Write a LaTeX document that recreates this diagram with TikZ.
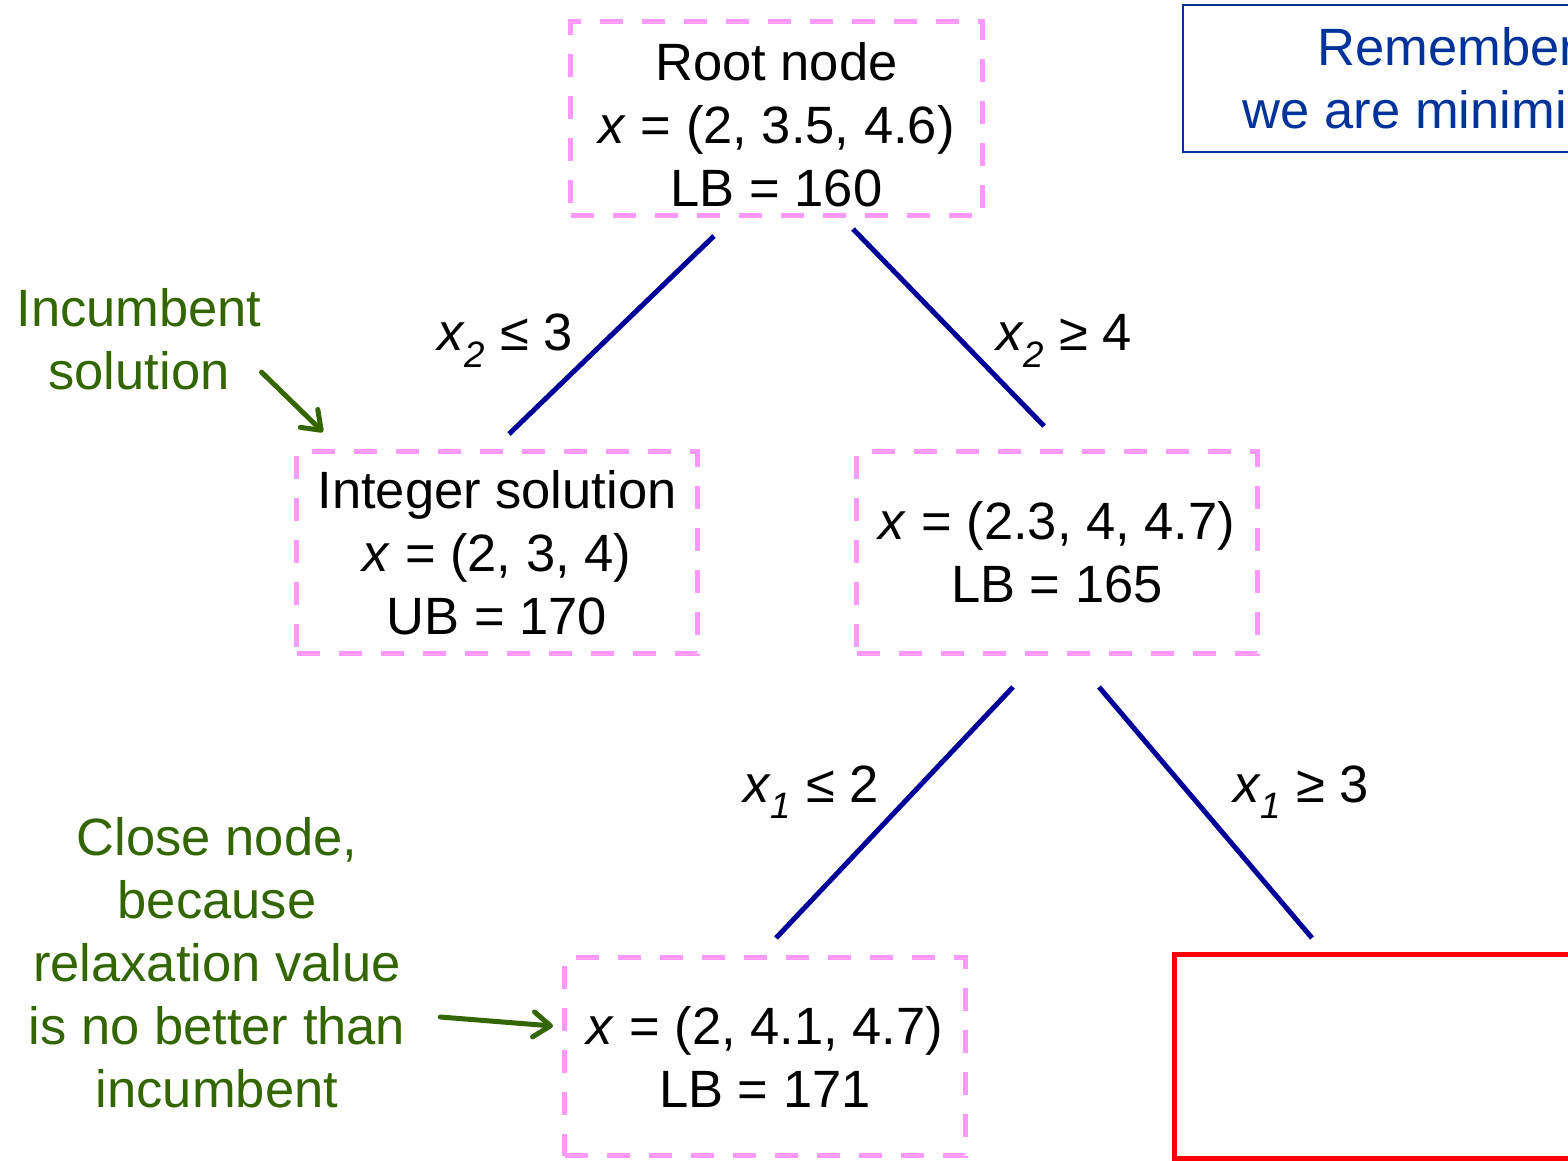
\documentclass[tikz,border=0pt]{standalone}
\usepackage{fontspec}
\setmainfont{Liberation Sans}
\usetikzlibrary{arrows.meta,calc}
\definecolor{boxpink}{RGB}{255,153,255}
\definecolor{branchblue}{RGB}{0,0,153}
\definecolor{notegreen}{RGB}{51,102,0}
\definecolor{remblue}{RGB}{0,51,153}

\begin{document}
\begin{tikzpicture}[x=1pt,y=-1pt,
  bigfont/.style={font=\fontsize{52.5}{63}\selectfont},
  bbnode/.style={draw=boxpink, line width=5pt, dash pattern=on 23pt off 19pt,
    align=center, inner sep=0pt, outer sep=0pt, bigfont,
    minimum width=401pt, minimum height=202pt},
  branch/.style={draw=branchblue, line width=5pt},
  note/.style={text=notegreen, align=center, bigfont, inner sep=0pt, outer sep=0pt},
  pointer/.style={draw=notegreen, line width=5pt, line cap=round,
    -{Straight Barb[length=17pt,width=25pt,line join=round,line cap=round]}},
  cond/.style={bigfont, inner sep=0pt, anchor=base}
]
\useasboundingbox (0,0) rectangle (1568,1160);
\clip (0,0) rectangle (1568,1160);

% branch-and-bound tree nodes
\node[bbnode, minimum width=412pt, minimum height=194pt, text height=177pt]
  (root) at (776.5,118.5)
  {Root node\\ \textit{x} = (2, 3.5, 4.6)\\ LB = 160};
\node[bbnode] (intsol) at (497,552.5)
  {Integer solution\\ \textit{x} = (2, 3, 4)\\ UB = 170};
\node[bbnode] (split) at (1057,552.5)
  {\textit{x} = (2.3, 4, 4.7)\\ LB = 165};
\node[bbnode, minimum height=198pt] (closed) at (765,1056.5)
  {\textit{x} = (2, 4.1, 4.7)\\ LB = 171};
\node[draw=red, line width=5.5pt, inner sep=0pt, outer sep=0pt,
  minimum width=401pt, minimum height=204pt] (pending) at (1375,1056.5) {};

% reminder box in the corner
\node[draw=remblue, line width=2pt, text=remblue, align=center, bigfont,
  inner sep=0pt, outer sep=0pt, minimum width=540pt, minimum height=147pt,
  text height=111pt] (remind) at (1453,78)
  {Remember,\\ we are minimizing};

% branches
\draw[branch] ([xshift=-62.5pt,yshift=-20.5pt]root.south) -- ([xshift=12pt,yshift=17.5pt]intsol.north);
\draw[branch] ([xshift=76.5pt,yshift=-13.5pt]root.south) -- ([xshift=-13pt,yshift=25.5pt]split.north);
\draw[branch] ([xshift=-44pt,yshift=-33.5pt]split.south) -- ([xshift=11pt,yshift=19.5pt]closed.north);
\draw[branch] ([xshift=42pt,yshift=-33.5pt]split.south) -- ([xshift=-63pt,yshift=16.5pt]pending.north);

% branching conditions
\node[cond] (c1) at (505,350) {\textit{x}\textsubscript{\textit{2}} ≤ 3};
\node[cond] (c2) at (1064,350) {\textit{x}\textsubscript{\textit{2}} ≥ 4};
\node[cond] (c3) at (811,802) {\textit{x}\textsubscript{\textit{1}} ≤ 2};
\node[cond] (c4) at (1301,802) {\textit{x}\textsubscript{\textit{1}} ≥ 3};

% annotations
\node[note] (incnote) at (139,339.4) {Incumbent\\ solution};
\node[note] (closenote) at (217,962.4)
  {Close node,\\ because\\ relaxation value\\ is no better than\\ incumbent};

\draw[pointer] ([yshift=18pt]incnote.south east) -- ([xshift=26.5pt,yshift=19.5pt]intsol.north west);
\draw[pointer] ([xshift=35pt,yshift=-54.6pt]closenote.east) -- ([xshift=-11.5pt,yshift=30.5pt]closed.west);
\end{tikzpicture}
\end{document}
